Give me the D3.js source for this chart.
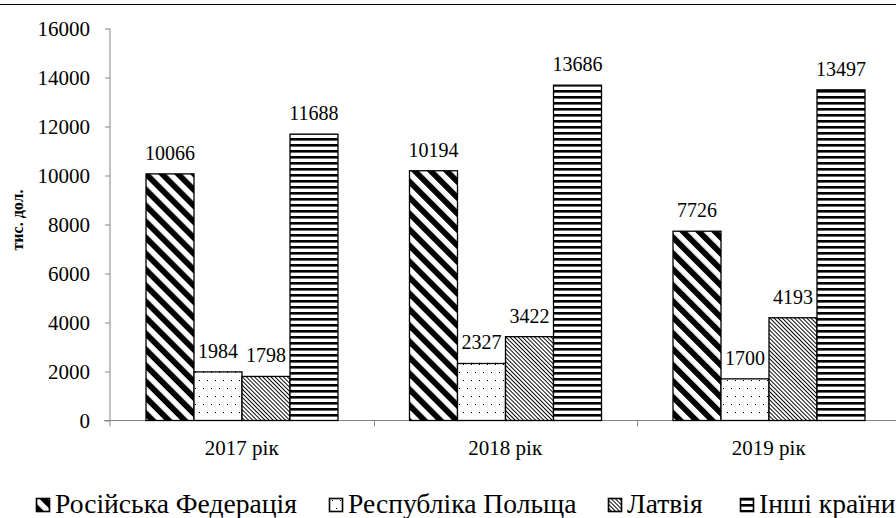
<!DOCTYPE html>
<html>
<head>
<meta charset="utf-8">
<script src="https://cdn.jsdelivr.net/npm/d3@7"></script>
<style>
  body { margin: 0; background: #fff; }
  svg { display: block; }
</style>
</head>
<body>
<script>
"use strict";

// data
const years = ["2017 рік", "2018 рік", "2019 рік"];
const countries = ["Російська Федерація", "Республіка Польща", "Латвія", "Інші країни"];
const russia = [10066, 10194, 7726];
const poland = [1984, 2327, 1700];
const latvia = [1798, 3422, 4193];
const others = [11688, 13686, 13497];
const yTicks = [0, 2000, 4000, 6000, 8000, 10000, 12000, 14000, 16000];
const yTitle = "тис. дол.";

const seriesValues = [russia, poland, latvia, others];
const patternIds = ["pRus", "pPol", "pLat", "pOth"];

// layout
const width = 896, height = 518;
const axisX = 110, plotRight = 900.5;
const yBottom = 420.5, yTop = 28.5;
const legendX = [36, 329, 608, 740];
const serif = "'Liberation Serif', 'Times New Roman', serif";

const svg = d3.select("body").append("svg")
    .attr("width", width)
    .attr("height", height)
    .style("font-family", serif);

// fill patterns
const defs = svg.append("defs");

// wide downward diagonal
const pr = defs.append("pattern")
    .attr("id", "pRus")
    .attr("patternUnits", "userSpaceOnUse")
    .attr("width", 11.3).attr("height", 11.3)
    .attr("patternTransform", "rotate(-45)");
pr.append("rect").attr("width", 11.3).attr("height", 11.3).attr("fill", "#fff");
pr.append("rect").attr("width", 5.8).attr("height", 11.3).attr("fill", "#000");

// sparse dots
const pp = defs.append("pattern")
    .attr("id", "pPol")
    .attr("patternUnits", "userSpaceOnUse")
    .attr("width", 8).attr("height", 16);
pp.append("rect").attr("width", 8).attr("height", 16).attr("fill", "#fff");
pp.append("rect").attr("x", 3).attr("y", 4).attr("width", 1).attr("height", 1).attr("fill", "#000");
pp.append("rect").attr("x", 7).attr("y", 12).attr("width", 1).attr("height", 1).attr("fill", "#000");

// dense thin diagonal
const pl = defs.append("pattern")
    .attr("id", "pLat")
    .attr("patternUnits", "userSpaceOnUse")
    .attr("width", 2.9).attr("height", 2.9)
    .attr("patternTransform", "rotate(-45)");
pl.append("rect").attr("width", 2.9).attr("height", 2.9).attr("fill", "#fff");
pl.append("rect").attr("width", 0.95).attr("height", 2.9).attr("fill", "#000");

// horizontal stripes
const po = defs.append("pattern")
    .attr("id", "pOth")
    .attr("patternUnits", "userSpaceOnUse")
    .attr("width", 6).attr("height", 6);
po.append("rect").attr("width", 6).attr("height", 6).attr("fill", "#fff");
po.append("rect").attr("y", 0).attr("width", 6).attr("height", 2.6).attr("fill", "#000");

// top border of the chart area
svg.append("line")
    .attr("x1", 0).attr("x2", width)
    .attr("y1", 4.5).attr("y2", 4.5)
    .attr("stroke", "#000").attr("stroke-width", 1);

// scales
const x0 = d3.scaleBand().domain(years).range([axisX, plotRight]);
const x1 = d3.scaleBand().domain(d3.range(countries.length)).range([36, 228]);
const y = d3.scaleLinear().domain([0, 16000]).range([yBottom, yTop]);

// y axis
const yAxis = svg.append("g")
    .attr("transform", `translate(${axisX},0)`)
    .call(d3.axisLeft(y).tickValues(yTicks).tickFormat(d3.format("d"))
        .tickSize(5).tickSizeOuter(0).tickPadding(15));
yAxis.attr("font-family", null).attr("font-size", null);
yAxis.select(".domain").remove();
yAxis.selectAll(".tick line").attr("stroke", "#868686");
yAxis.selectAll(".tick text")
    .attr("fill", "#000")
    .style("font-size", "21px");

svg.append("line")
    .attr("x1", axisX).attr("x2", axisX)
    .attr("y1", yTop).attr("y2", yBottom + 6)
    .attr("stroke", "#868686");

// x axis
svg.append("line")
    .attr("x1", axisX - 6).attr("x2", width)
    .attr("y1", yBottom).attr("y2", yBottom)
    .attr("stroke", "#868686");
svg.selectAll("line.catTick")
    .data(years.slice(1))
    .enter().append("line")
    .attr("class", "catTick")
    .attr("x1", d => Math.round(x0(d)) + 0.5)
    .attr("x2", d => Math.round(x0(d)) + 0.5)
    .attr("y1", yBottom).attr("y2", yBottom + 6)
    .attr("stroke", "#868686");
svg.selectAll("text.catLabel")
    .data(years)
    .enter().append("text")
    .attr("class", "catLabel")
    .attr("x", d => x0(d) + x0.bandwidth() / 2)
    .attr("y", 455)
    .attr("text-anchor", "middle")
    .style("font-size", "21px")
    .text(d => d);

// y title
svg.append("text")
    .attr("transform", "translate(23,220) rotate(-90)")
    .attr("text-anchor", "middle")
    .style("font-size", "16px")
    .style("font-weight", "bold")
    .text(yTitle);

// bars
const cells = [];
years.forEach((yr, i) => {
    seriesValues.forEach((vals, s) => {
        cells.push({year: yr, s: s, v: vals[i]});
    });
});

svg.selectAll("rect.bar")
    .data(cells)
    .enter().append("rect")
    .attr("class", "bar")
    .attr("x", d => x0(d.year) + x1(d.s))
    .attr("y", d => y(d.v))
    .attr("width", x1.bandwidth())
    .attr("height", d => yBottom - y(d.v))
    .attr("fill", d => `url(#${patternIds[d.s]})`)
    .attr("stroke", "#000")
    .attr("stroke-width", 1.3);

svg.selectAll("text.val")
    .data(cells)
    .enter().append("text")
    .attr("class", "val")
    .attr("x", d => x0(d.year) + x1(d.s) + x1.bandwidth() / 2)
    .attr("y", d => y(d.v) - 14)
    .attr("text-anchor", "middle")
    .style("font-size", "20px")
    .text(d => d.v);

// legend
const legend = svg.append("g");
const items = legend.selectAll("g")
    .data(countries)
    .enter().append("g")
    .attr("transform", (d, i) => `translate(${legendX[i]},0)`);
items.append("rect")
    .attr("x", 0.5).attr("y", 498.5)
    .attr("width", 13).attr("height", 13)
    .attr("fill", (d, i) => `url(#${patternIds[i]})`)
    .attr("stroke", "#000")
    .attr("stroke-width", 1.6);
const ltext = items.append("text")
    .attr("x", 19)
    .attr("y", 513)
    .style("font-size", "100px")
    .text(d => d);
// pick the font size that makes the first entry as wide as in the reference
const firstLen = ltext.node().getComputedTextLength();
ltext.style("font-size", (242 / firstLen * 100) + "px");
</script>
</body>
</html>
